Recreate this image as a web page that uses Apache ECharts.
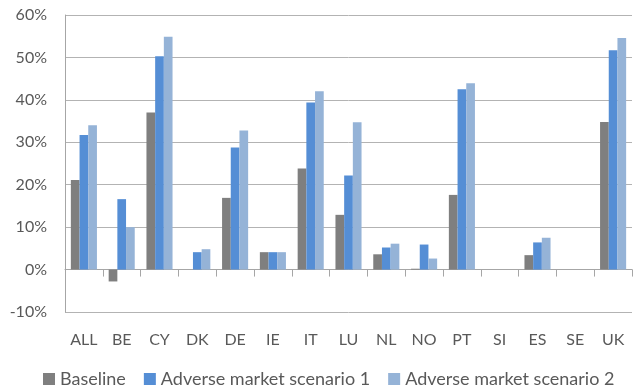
<!DOCTYPE html>
<html>
<head>
<meta charset="utf-8">
<script src="https://cdn.jsdelivr.net/npm/echarts@6/dist/echarts.min.js"></script>
<style>
  html, body { margin: 0; padding: 0; background: #fff; }
  #chart { width: 636px; height: 390px; }
</style>
</head>
<body>
<div id="chart"></div>
<script>
// Country codes along the category axis
const categories = ['ALL', 'BE', 'CY', 'DK', 'DE', 'IE', 'IT', 'LU', 'NL', 'NO', 'PT', 'SI', 'ES', 'SE', 'UK'];

// Shares in percent per country and scenario (null = not reported)
const baseline  = [21.1, -2.8, 37.0, null, 16.9, 4.1, 23.8, 12.9, 3.6, 0.2, 17.6, null, 3.4, null, 34.8];
const adverse1  = [31.7, 16.6, 50.3, 4.1, 28.8, 4.1, 39.4, 22.2, 5.2, 5.9, 42.5, null, 6.4, null, 51.7];
const adverse2  = [34.0, 10.0, 54.9, 4.8, 32.8, 4.1, 42.0, 34.7, 6.1, 2.6, 43.9, null, 7.5, null, 54.6];

const seriesNames = ['Baseline', 'Adverse market scenario 1', 'Adverse market scenario 2'];

// Value axis ticks in percent
const yMin = -10, yMax = 60, yStep = 10;

const fontFamily = 'Lato, "Open Sans", sans-serif';
const textColor = '#595959';
const colors = ['#7f7f7f', '#558ed5', '#95b3d7'];

const chart = echarts.init(document.getElementById('chart'), null, { renderer: 'canvas' });

function barSeries(name, values, color) {
  return {
    name: name,
    type: 'bar',
    data: values,
    barGap: '0%',
    barCategoryGap: '31%',
    itemStyle: { color: color },
    emphasis: { disabled: true }
  };
}

chart.setOption({
  animation: false,
  color: colors,
  textStyle: { fontFamily: fontFamily },
  grid: { left: 65, right: 4, top: 15, bottom: 78, containLabel: false },
  legend: {
    left: 43,
    top: 370,
    padding: 0,
    icon: 'rect',
    itemWidth: 12,
    itemHeight: 12,
    itemGap: 18,
    textStyle: { color: textColor, fontSize: 18, fontFamily: fontFamily },
    data: seriesNames
  },
  xAxis: {
    type: 'category',
    data: categories,
    axisLine: { onZero: true, lineStyle: { color: '#a6a6a6', width: 1 } },
    axisTick: { show: true, length: 7, lineStyle: { color: '#a6a6a6' } },
    axisLabel: { margin: 20, color: textColor, fontSize: 16, fontFamily: fontFamily }
  },
  yAxis: {
    type: 'value',
    min: yMin,
    max: yMax,
    interval: yStep,
    axisLine: { show: true, lineStyle: { color: '#a6a6a6', width: 1 } },
    axisTick: { show: false },
    splitLine: { show: true, lineStyle: { color: '#b3b3b3', width: 1 } },
    axisLabel: {
      margin: 18,
      color: textColor,
      fontSize: 16,
      fontFamily: fontFamily,
      formatter: v => v + '%'
    }
  },
  series: [
    barSeries(seriesNames[0], baseline, colors[0]),
    barSeries(seriesNames[1], adverse1, colors[1]),
    barSeries(seriesNames[2], adverse2, colors[2])
  ]
});
</script>
</body>
</html>
